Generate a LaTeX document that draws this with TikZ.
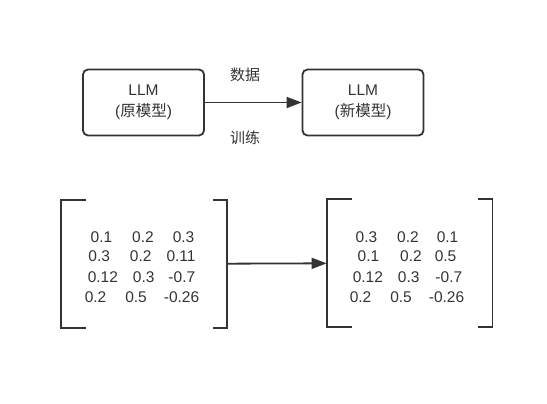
\documentclass[tikz,border=0pt]{standalone}
\usepackage{fontspec}
\setmainfont{Liberation Sans}
\newfontfamily\cjk{Noto Sans CJK SC}
\usepackage{tikz}
\usetikzlibrary{arrows.meta,positioning}
\definecolor{ink}{HTML}{333333}

\begin{document}
\begin{tikzpicture}[x=1pt,y=-1pt,->,>={Triangle[length=15pt,width=11pt]},line width=1.8pt,draw=ink,
	modelnode/.style={rectangle,draw=ink,rounded corners=5pt,minimum width=121pt,minimum height=66pt,align=center,text=ink,font=\fontsize{15.5}{21}\selectfont},
	labelnode/.style={text=ink,font=\fontsize{15}{18}\selectfont\cjk},
	rownode/.style={text=ink,inner sep=0pt,font=\fontsize{15.5}{18}\selectfont},
	matnode/.style={rectangle,inner sep=0pt,minimum width=164pt,minimum height=126pt}]
	
	\useasboundingbox (0,0) rectangle (547,404);
	
	\node [modelnode] (old) at (143.5, 102.5) {LLM\\({\cjk 原模型})};
	\node [modelnode] (new) at (363, 102.5) {LLM\\({\cjk 新模型})};
	\node [labelnode] (data) at (245, 75) {数据};
	\node [labelnode] (train) at (245, 138) {训练};
	
	\node [matnode] (matL) at (144, 264) {};
	\node [matnode] (matR) at (409.5, 263) {};
	
	% rows of the left matrix
	\node [rownode] (l1) at (142.5, 237) {0.1\hspace{20pt}0.2\hspace{19pt}0.3};
	\node [rownode] (l2) at (142, 256) {0.3\hspace{20pt}0.2\hspace{15pt}0.11};
	\node [rownode] (l3) at (141.5, 277) {0.12\hspace{15pt}0.3\hspace{14pt}-0.7};
	\node [rownode] (l4) at (142, 297) {0.2\hspace{19pt}0.5\hspace{17pt}-0.26};
	% rows of the right matrix
	\node [rownode] (r1) at (407, 237) {0.3\hspace{20pt}0.2\hspace{18pt}0.1};
	\node [rownode] (r2) at (407, 256) {0.1\hspace{21pt}0.2\hspace{13pt}0.5};
	\node [rownode] (r3) at (407.5, 277) {0.12\hspace{15pt}0.3\hspace{16pt}-0.7};
	\node [rownode] (r4) at (407, 297) {0.2\hspace{19pt}0.5\hspace{17pt}-0.26};
	
	% brackets
	\draw[-] ([xshift=25pt]matL.north west) -- (matL.north west) -- (matL.south west) -- ([xshift=25pt]matL.south west);
	\draw[-] ([xshift=-14pt]matL.north east) -- (matL.north east) -- (matL.south east) -- ([xshift=-14pt]matL.south east);
	\draw[-] ([xshift=25pt]matR.north west) -- (matR.north west) -- (matR.south west) -- ([xshift=25pt]matR.south west);
	\draw[-] ([xshift=-14pt]matR.north east) -- (matR.north east) -- (matR.south east) -- ([xshift=-14pt]matR.south east);
	
	\draw (old) to (new);
	\draw (matL) to (matR);
\end{tikzpicture}
\end{document}
